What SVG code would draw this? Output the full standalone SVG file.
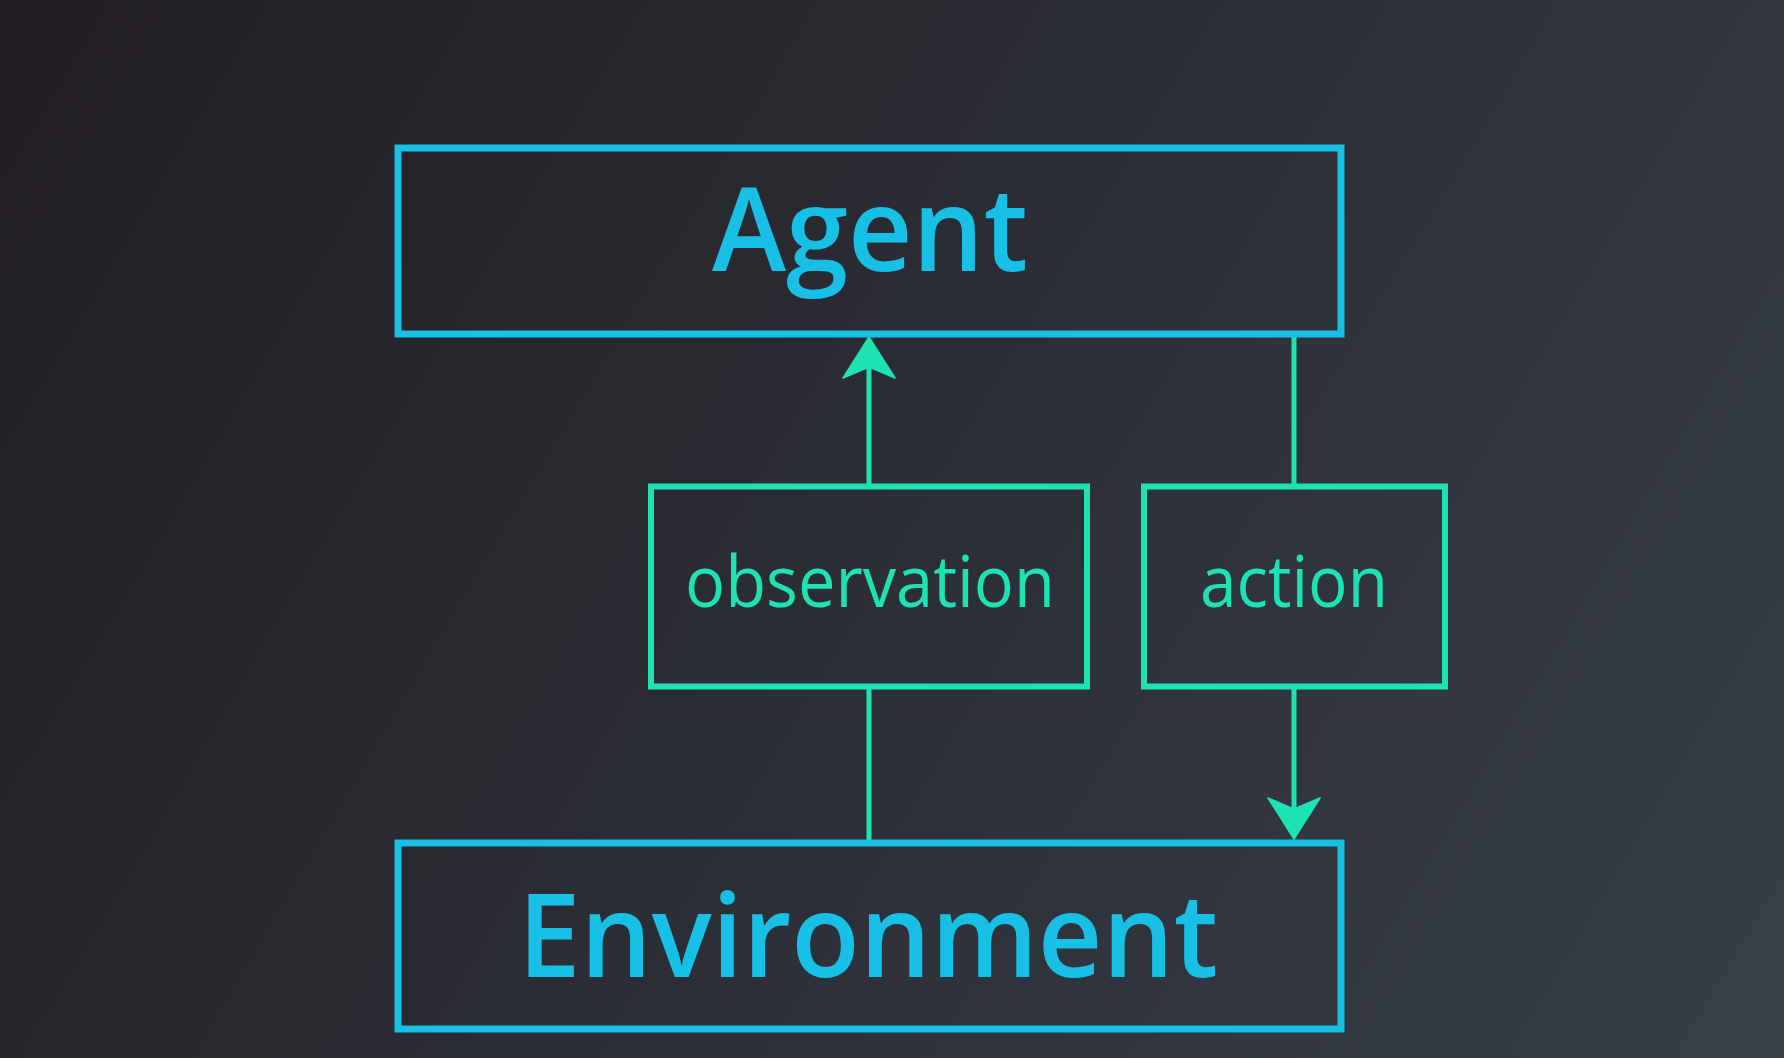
<svg xmlns="http://www.w3.org/2000/svg" width="1784" height="1058" viewBox="0 0 1784 1058">
  <style>
    .main { fill: none; stroke: #17c0e4; stroke-width: 7; }
    .sub { fill: none; stroke: #1ee2b2; stroke-width: 6; }
    .conn { fill: none; stroke: #1ee2b2; stroke-width: 5; }
    .big { font-family: "Open Sans", "Noto Sans", "Liberation Sans", sans-serif; font-weight: 600; font-size: 116px; fill: #17c0e4; text-anchor: middle; }
    .lbl { font-family: "Open Sans", "Noto Sans", "Liberation Sans", sans-serif; font-weight: 400; font-size: 72px; fill: #1ee2b2; text-anchor: middle; }
  </style>
  <defs>
    <linearGradient id="bg" gradientUnits="userSpaceOnUse" x1="0" y1="0" x2="1784" y2="1058">
      <stop offset="0" stop-color="#211d22"/>
      <stop offset="1" stop-color="#373f49"/>
    </linearGradient>
    <marker id="arrow" markerUnits="userSpaceOnUse" viewBox="-13 -27 44 54" refX="0" refY="0" markerWidth="44" markerHeight="54" orient="auto">
      <path d="M30,0 L-11,-26 L0,0 L-11,26 Z" fill="#1ee2b2" stroke="#1ee2b2" stroke-width="1.5" stroke-linejoin="round"/>
    </marker>
  </defs>
  <rect x="0" y="0" width="1784" height="1058" fill="url(#bg)"/>

  <g id="connectors">
    <line class="conn" x1="869" y1="843" x2="869" y2="686"/>
    <line class="conn" x1="869" y1="486" x2="869" y2="367" marker-end="url(#arrow)"/>
    <line class="conn" x1="1294" y1="334" x2="1294" y2="486"/>
    <line class="conn" x1="1294" y1="686" x2="1294" y2="809" marker-end="url(#arrow)"/>
  </g>

  <g id="agent">
    <rect class="main" x="398" y="148" width="943" height="186"/>
    <text class="big" x="870" y="271" textLength="316" lengthAdjust="spacingAndGlyphs">Agent</text>
  </g>

  <g id="environment">
    <rect class="main" x="398" y="843" width="943" height="186"/>
    <text class="big" x="868" y="977" textLength="700" lengthAdjust="spacingAndGlyphs">Environment</text>
  </g>

  <g id="observation">
    <rect class="sub" x="651" y="486.5" width="436" height="200"/>
    <text class="lbl" x="870" y="607" textLength="370" lengthAdjust="spacingAndGlyphs">observation</text>
  </g>

  <g id="action">
    <rect class="sub" x="1144" y="486.5" width="301" height="200"/>
    <text class="lbl" x="1294" y="607" textLength="188" lengthAdjust="spacingAndGlyphs">action</text>
  </g>
</svg>
